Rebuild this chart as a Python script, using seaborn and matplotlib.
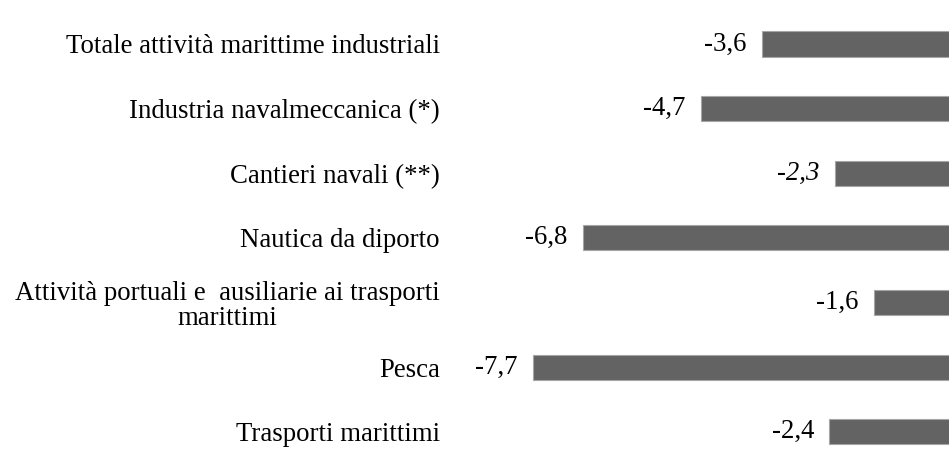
import matplotlib
matplotlib.use("Agg")
import matplotlib.pyplot as plt
import seaborn as sns
import pandas as pd

# Data
categories = [
    "Totale attività marittime industriali",
    "Industria navalmeccanica (*)",
    "Cantieri navali (**)",
    "Nautica da diporto",
    "Attività portuali e  ausiliarie ai trasporti\nmarittimi",
    "Pesca",
    "Trasporti marittimi",
]
values = [-3.6, -4.7, -2.3, -6.8, -1.6, -7.7, -2.4]
italic_rows = [2]

sns.set_theme(style="white")
plt.rcParams['font.family'] = ['Liberation Serif', 'DejaVu Serif']

df = pd.DataFrame({"cat": categories, "val": values})

fig = plt.figure(figsize=(9.49, 4.57), dpi=100)
ax = fig.add_axes([455 / 949, 0, 494 / 949, 1])
sns.barplot(data=df, x="val", y="cat", orient="h", color="#636363",
            saturation=1, width=0.39, edgecolor="#a6a6a6", linewidth=0.8, ax=ax)

# Value labels left of the bars
labels = [f"{v:.1f}".replace(".", ",") for v in values]
texts = ax.bar_label(ax.containers[0], labels=labels, padding=11,
                     fontsize=19.3, color="black")
for t in texts:
    t.set_va("center")
for i in italic_rows:
    texts[i].set_style("italic")

# zero sits just past the right edge of the picture
ax.set_xlim(-9.09, -0.26)
ax.set_ylim(6.39, -0.68)
ax.set_xlabel("")
ax.set_ylabel("")
ax.set_xticks([])
ax.tick_params(axis="y", length=0, pad=11, labelsize=19.3, labelcolor="black")
for lab in ax.get_yticklabels():
    lab.set_multialignment("center")
    lab.set_linespacing(1.05)
sns.despine(ax=ax, left=True, bottom=True)

fig.savefig("out.png", dpi=100)
